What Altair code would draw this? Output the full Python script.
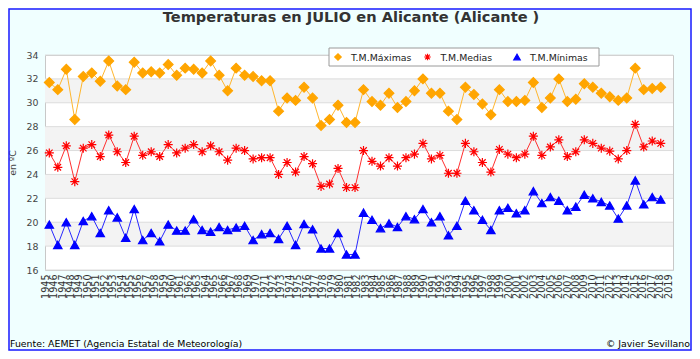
import altair as alt
import pandas as pd

# ---------------- data ----------------
label_years = list(range(1945, 2020))  # axis labels 1945..2019
data_years = list(range(1945, 2018))   # points drawn in the reference

tmax = [31.7, 31.1, 32.8, 28.6, 32.2, 32.5, 31.8, 33.5, 31.4, 31.1,
        33.4, 32.5, 32.6, 32.5, 33.2, 32.3, 32.9, 32.8, 32.5, 33.5,
        32.3, 31.0, 32.9, 32.3, 32.2, 31.85, 31.85, 29.3, 30.4, 30.2,
        31.3, 30.4, 28.1, 28.6, 29.8, 28.35, 28.35, 31.1, 30.1, 29.8,
        30.8, 29.6, 30.1, 31.0, 32.0, 30.8, 30.8, 29.3, 28.6, 31.3,
        30.7, 29.9, 29.0, 31.1, 30.1, 30.1, 30.2, 31.7, 29.6, 30.4,
        32.0, 30.1, 30.3, 31.6, 31.3, 30.8, 30.5, 30.2, 30.4, 32.9,
        31.1, 31.2, 31.3]
tmed = [25.8, 24.6, 26.4, 23.4, 26.2, 26.5, 25.5, 27.3, 25.9, 25.0,
        27.2, 25.6, 25.9, 25.5, 26.5, 25.8, 26.2, 26.5, 25.9, 26.4,
        25.9, 25.2, 26.2, 26.0, 25.3, 25.4, 25.4, 24.0, 25.0, 24.2,
        25.5, 24.9, 23.0, 23.2, 24.5, 22.9, 22.9, 26.0, 25.1, 24.7,
        25.4, 24.7, 25.4, 25.7, 26.6, 25.3, 25.6, 24.1, 24.1, 26.6,
        25.9, 25.0, 24.2, 26.1, 25.7, 25.4, 25.7, 27.2, 25.6, 26.3,
        26.9, 25.5, 25.9, 26.9, 26.6, 26.2, 25.95, 25.3, 26.0, 28.2,
        26.3, 26.8, 26.6]
tmin = [19.8, 18.1, 20.0, 18.1, 20.1, 20.5, 19.1, 21.0, 20.4, 18.7,
        21.1, 18.5, 19.1, 18.4, 19.8, 19.3, 19.3, 20.25, 19.35, 19.2,
        19.6, 19.35, 19.55, 19.7, 18.5, 19.0, 19.1, 18.6, 19.7, 18.1,
        19.85, 19.4, 17.8, 17.8, 19.1, 17.3, 17.3, 20.8, 20.2, 19.5,
        19.9, 19.6, 20.5, 20.25, 21.1, 20.0, 20.5, 18.9, 19.7, 21.8,
        21.0, 20.2, 19.35, 21.0, 21.2, 20.75, 21.0, 22.6, 21.6, 22.1,
        21.8, 21.0, 21.3, 22.3, 22.0, 21.7, 21.4, 20.3, 21.4, 23.5,
        21.5, 22.1, 21.9]

series = ["T.M.Máximas", "T.M.Medias", "T.M.Mínimas"]
colors = ["#FFA500", "#FF0000", "#0000FF"]
line_colors = ["#FFB62E", "#FF3030", "#2828FF"]
y_ticks = list(range(16, 35, 2))
bands_lo = [30, 26, 22, 18]
bands_hi = [32, 28, 24, 20]

title_text = "Temperaturas en JULIO en Alicante (Alicante )"
source_text = "Fuente: AEMET (Agencia Estatal de Meteorología)"
author_text = "© Javier Sevillano"

# ---------------- build table ----------------
rows = []
for s, vals in zip(series, [tmax, tmed, tmin]):
    for y, v in zip(data_years, vals):
        rows.append({"anio": y, "valor": v, "serie": s})
df = pd.DataFrame(rows)
leg_df = pd.DataFrame({"serie": series})

FONT = "DejaVu Sans"
W, H = 628, 215

# point positions and label positions follow slightly different spacings in the reference
x_data = alt.Scale(domain=[1944.4936, 2018.4456], nice=False, zero=False)
x_lab = alt.Scale(domain=[1944.964, 2019.593], nice=False, zero=False)
x_leg = alt.Scale(type="point", domain=series, range=[293, 472], padding=0)
yscale = alt.Scale(domain=[16, 34], nice=False, zero=False)
cscale = alt.Scale(domain=series, range=colors)
sscale = alt.Scale(domain=series, range=["diamond",
                                         "M-1,0L1,0M0,-1L0,1M-0.72,-0.72L0.72,0.72M-0.72,0.72L0.72,-0.72",
                                         "triangle-up"])

yax = alt.Axis(values=y_ticks, title="en ºC", grid=False, ticks=False, domain=False,
               labelFont=FONT, labelFontSize=9.4, labelColor="#444", labelPadding=7,
               titleFont=FONT, titleFontSize=9.4, titleFontWeight="normal",
               titleColor="#444", titlePadding=9)
xax = alt.Axis(title=None, orient="bottom", values=label_years, format="d",
               labelAngle=270, labelFont=FONT, labelFontSize=9.6,
               labelColor="#333", ticks=False, domain=False, labelPadding=4,
               labelOverlap=False, grid=False, labelFlush=False)

bands = alt.Chart(pd.DataFrame({"lo": bands_lo, "hi": bands_hi})).mark_rect(
    color="#F3F3F3").encode(
    y=alt.Y("lo:Q", scale=yscale, axis=yax), y2="hi:Q")

grid = alt.Chart(pd.DataFrame({"v": y_ticks})).mark_rule(
    color="#DCDCDC", strokeWidth=1).encode(
    y=alt.Y("v:Q", scale=yscale, axis=yax))

labels = alt.Chart(pd.DataFrame({"anio": label_years})).mark_point(opacity=0).encode(
    x=alt.X("anio:Q", scale=x_lab, axis=xax), y=alt.value(0))

lines = alt.Chart(df).mark_line(strokeWidth=1).encode(
    x=alt.X("anio:Q", scale=x_data, axis=None),
    y=alt.Y("valor:Q", scale=yscale, axis=yax),
    stroke=alt.Stroke("serie:N", scale=alt.Scale(domain=series, range=line_colors), legend=None),
    detail="serie:N")

points = alt.Chart(df).mark_point(filled=False, strokeWidth=1.2, opacity=1).encode(
    x=alt.X("anio:Q", scale=x_data, axis=None),
    y=alt.Y("valor:Q", scale=yscale, axis=yax),
    color=alt.Color("serie:N", scale=cscale, legend=None),
    fill=alt.Fill("serie:N", scale=cscale, legend=None),
    shape=alt.Shape("serie:N", scale=sscale, legend=None),
    size=alt.Size("serie:N", scale=alt.Scale(domain=series, range=[95, 70, 80]), legend=None))

# legend (box + symbols + labels), symbols use the same colour / shape scales
leg_box = alt.Chart(pd.DataFrame({"f": [1]})).mark_rect(
    fill="white", stroke="#9a9a9a", strokeWidth=1).encode(
    x=alt.value(284), x2=alt.value(554), y=alt.value(-7), y2=alt.value(11))

leg_sym = alt.Chart(leg_df).mark_point(filled=False, strokeWidth=1.2, opacity=1, size=42).encode(
    x=alt.X("serie:N", scale=x_leg, axis=None),
    y=alt.value(2),
    color=alt.Color("serie:N", scale=cscale, legend=None),
    fill=alt.Fill("serie:N", scale=cscale, legend=None),
    shape=alt.Shape("serie:N", scale=sscale, legend=None))

leg_txt = alt.Chart(leg_df).mark_text(
    font=FONT, fontSize=9.4, color="#222", align="left", baseline="middle", dx=13).encode(
    x=alt.X("serie:N", scale=x_leg, axis=None),
    y=alt.value(2.5),
    text="serie:N")

title = alt.Chart(pd.DataFrame({"t": [title_text]})).mark_text(
    font=FONT, fontSize=14.6, fontWeight="bold", color="#333333",
    align="center", baseline="middle").encode(
    text="t:N", x=alt.value(306), y=alt.value(-37))

source = alt.Chart(pd.DataFrame({"t": [source_text]})).mark_text(
    font=FONT, fontSize=9.4, color="#000000", align="left", baseline="middle").encode(
    text="t:N", x=alt.value(-35), y=alt.value(289))

author = alt.Chart(pd.DataFrame({"t": [author_text]})).mark_text(
    font=FONT, fontSize=9.4, color="#000000", align="right", baseline="middle").encode(
    text="t:N", x=alt.value(645), y=alt.value(289))

frame = alt.Chart(pd.DataFrame({"f": [1]})).mark_rect(
    fill=None, stroke="#1a1aff", strokeWidth=1.5).encode(
    x=alt.value(-36), x2=alt.value(646), y=alt.value(-46), y2=alt.value(295))

chart = alt.layer(labels, bands, grid, lines, points, leg_box, leg_sym, leg_txt,
                  title, source, author, frame).resolve_scale(
    x="independent"
).properties(
    width=W, height=H,
    autosize=alt.AutoSizeParams(type="none"),
    padding={"left": 37, "top": 47, "right": 19, "bottom": 81},
    background="#F0FFFF",
).configure_view(stroke="#C8C8C8", fill="white")

chart.save("out.html", embed_options={"renderer": "svg", "actions": False})
